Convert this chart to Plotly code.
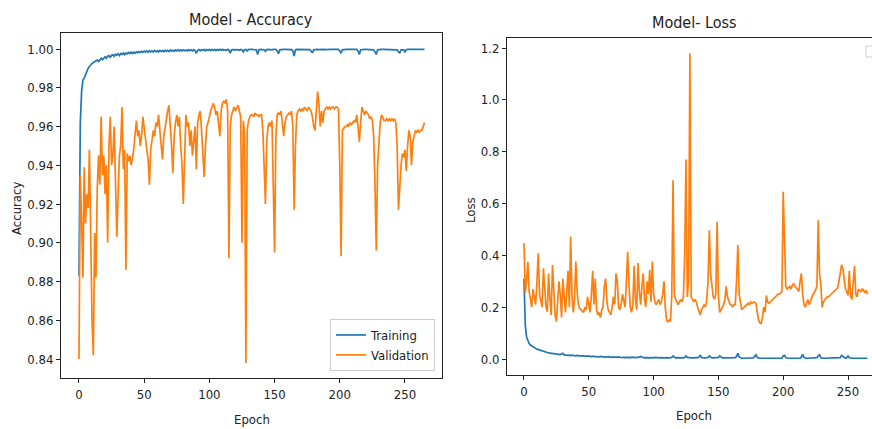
import plotly.graph_objects as go

epochs = list(range(266))

train_acc = [
    0.883, 0.962, 0.978, 0.984, 0.985, 0.987, 0.988, 0.990, 0.991, 0.992,
    0.9925, 0.993, 0.9935, 0.9940, 0.9943, 0.9936, 0.9948, 0.9952, 0.9945, 0.9956,
    0.9960, 0.9952, 0.9963, 0.9966, 0.9955, 0.9968, 0.9970, 0.9962, 0.9973, 0.9968,
    0.9975, 0.9966, 0.9977, 0.9972, 0.9979, 0.9970, 0.9980, 0.9975, 0.9982, 0.9976,
    0.9983, 0.9977, 0.9984, 0.9978, 0.9986, 0.9980, 0.9987, 0.9982, 0.9988, 0.9983,
    0.9989, 0.9984, 0.9990, 0.9983, 0.9991, 0.9985, 0.9990, 0.9984, 0.9992, 0.9986,
    0.9991, 0.9985, 0.9993, 0.9987, 0.9992, 0.9986, 0.9994, 0.9988, 0.9993, 0.9987,
    0.9995, 0.9989, 0.9994, 0.9988, 0.9995, 0.9990, 0.9996, 0.9989, 0.9995, 0.9990,
    0.9996, 0.9991, 0.9995, 0.9990, 0.9997, 0.9991, 0.9996, 0.9990, 0.9997, 0.9992,
    0.9978, 0.9993, 0.9997, 0.9991, 0.9996, 0.9992, 0.9998, 0.9991, 0.9997, 0.9993,
    0.9998, 0.9992, 0.9997, 0.9993, 0.9998, 0.9992, 0.9997, 0.9994, 0.9998, 0.9993,
    0.9998, 0.9994, 0.9997, 0.9993, 0.9998, 0.9994, 0.9978, 0.9995, 0.9998, 0.9994,
    0.9998, 0.9995, 0.9997, 0.9994, 0.9998, 0.9995, 0.9985, 0.9996, 0.9998, 0.9990,
    0.9997, 0.9998, 0.9996, 0.9998, 0.9997, 0.9998, 0.9996, 0.9972, 0.9996, 0.9998,
    0.9997, 0.9998, 0.9996, 0.9988, 0.9997, 0.9998, 0.9997, 0.9998, 0.9996, 0.9998,
    0.9997, 0.9998, 0.9990, 0.9975, 0.9996, 0.9998, 0.9997, 0.9998, 0.9998, 0.9997,
    0.9998, 0.9998, 0.9997, 0.9998, 0.9990, 0.9964, 0.9995, 0.9998, 0.9998, 0.9997,
    0.9998, 0.9998, 0.9998, 0.9997, 0.9998, 0.9998, 0.9998, 0.9997, 0.9990, 0.9980,
    0.9996, 0.9998, 0.9998, 0.9998, 0.9997, 0.9998, 0.9998, 0.9998, 0.9998, 0.9997,
    0.9998, 0.9998, 0.9998, 0.9998, 0.9998, 0.9997, 0.9998, 0.9998, 0.9998, 0.9998,
    0.9990, 0.9978, 0.9996, 0.9998, 0.9998, 0.9998, 0.9998, 0.9998, 0.9997, 0.9998,
    0.9998, 0.9998, 0.9998, 0.9998, 0.9990, 0.9972, 0.9996, 0.9998, 0.9998, 0.9998,
    0.9998, 0.9998, 0.9998, 0.9998, 0.9998, 0.9998, 0.9996, 0.9985, 0.9972, 0.9996,
    0.9998, 0.9998, 0.9998, 0.9998, 0.9998, 0.9998, 0.9998, 0.9998, 0.9998, 0.9998,
    0.9998, 0.9998, 0.9998, 0.9998, 0.9996, 0.9985, 0.9980, 0.9996, 0.9998, 0.9996,
    0.9985, 0.9996, 0.9998, 0.9998, 0.9998, 0.9998, 0.9998, 0.9998, 0.9998, 0.9998,
    0.9998, 0.9998, 0.9998, 0.9998, 0.9998, 0.9998,
]

val_acc = [
    0.840, 0.935, 0.912, 0.882, 0.939, 0.910, 0.925, 0.918, 0.948, 0.905,
    0.860, 0.842, 0.905, 0.882, 0.928, 0.945, 0.930, 0.965, 0.935, 0.945,
    0.925, 0.940, 0.900, 0.950, 0.965, 0.940, 0.945, 0.960, 0.930, 0.903,
    0.925, 0.945, 0.950, 0.970, 0.938, 0.948, 0.886, 0.946, 0.942, 0.945,
    0.940, 0.944, 0.948, 0.956, 0.963, 0.955, 0.958, 0.950, 0.955, 0.965,
    0.958, 0.952, 0.948, 0.943, 0.930, 0.948, 0.952, 0.958, 0.955, 0.962,
    0.960, 0.966, 0.958, 0.952, 0.943, 0.955, 0.960, 0.963, 0.968, 0.971,
    0.962, 0.950, 0.936, 0.955, 0.962, 0.966, 0.960, 0.965, 0.950, 0.940,
    0.920, 0.945, 0.966, 0.960, 0.962, 0.950, 0.958, 0.945, 0.955, 0.960,
    0.938, 0.962, 0.966, 0.968, 0.958, 0.945, 0.934, 0.950, 0.960, 0.962,
    0.966, 0.968, 0.970, 0.972, 0.970, 0.966, 0.968, 0.962, 0.955, 0.968,
    0.972, 0.973, 0.972, 0.974, 0.968, 0.892, 0.960, 0.966, 0.968, 0.970,
    0.968, 0.970, 0.971, 0.968, 0.965, 0.900, 0.963, 0.956, 0.838, 0.958,
    0.963, 0.965, 0.966, 0.966, 0.965, 0.967, 0.966, 0.966, 0.965, 0.966,
    0.966, 0.958, 0.935, 0.920, 0.952, 0.960, 0.962, 0.960, 0.963, 0.930,
    0.895, 0.955, 0.966, 0.967, 0.966, 0.968, 0.962, 0.955, 0.962, 0.965,
    0.966, 0.967, 0.966, 0.968, 0.960, 0.917, 0.950, 0.966, 0.968, 0.969,
    0.968, 0.969, 0.968, 0.970, 0.969, 0.968, 0.970, 0.969, 0.968, 0.965,
    0.960, 0.958, 0.970, 0.978, 0.972, 0.960, 0.968, 0.962, 0.968, 0.969,
    0.970, 0.969, 0.970, 0.969, 0.970, 0.970, 0.969, 0.970, 0.970, 0.969,
    0.940, 0.893, 0.958, 0.959, 0.960, 0.960, 0.961, 0.960, 0.962, 0.961,
    0.962, 0.963, 0.962, 0.966, 0.960, 0.952, 0.962, 0.970, 0.968, 0.966,
    0.968, 0.967, 0.966, 0.964, 0.965, 0.963, 0.955, 0.930, 0.896, 0.940,
    0.955, 0.962, 0.966, 0.964, 0.963, 0.963, 0.964, 0.963, 0.964, 0.963,
    0.964, 0.963, 0.964, 0.962, 0.950, 0.917, 0.930, 0.940, 0.946, 0.944,
    0.948, 0.937, 0.950, 0.958, 0.955, 0.940, 0.952, 0.955, 0.958, 0.957,
    0.958, 0.957, 0.958, 0.958, 0.960, 0.962,
]

train_loss = [
    0.310, 0.130, 0.085, 0.068, 0.060, 0.054, 0.050, 0.047, 0.044, 0.041,
    0.038, 0.036, 0.034, 0.032, 0.030, 0.029, 0.027, 0.026, 0.025, 0.024,
    0.023, 0.022, 0.021, 0.021, 0.020, 0.019, 0.018, 0.018, 0.017, 0.019,
    0.022, 0.016, 0.015, 0.016, 0.014, 0.015, 0.013, 0.015, 0.013, 0.014,
    0.012, 0.014, 0.012, 0.013, 0.011, 0.013, 0.011, 0.012, 0.010, 0.012,
    0.010, 0.011, 0.009, 0.011, 0.009, 0.010, 0.008, 0.010, 0.008, 0.010,
    0.008, 0.009, 0.007, 0.009, 0.007, 0.009, 0.007, 0.008, 0.006, 0.008,
    0.006, 0.008, 0.006, 0.008, 0.006, 0.007, 0.005, 0.007, 0.005, 0.007,
    0.005, 0.007, 0.005, 0.007, 0.005, 0.006, 0.005, 0.006, 0.005, 0.007,
    0.010, 0.006, 0.005, 0.006, 0.004, 0.006, 0.004, 0.006, 0.004, 0.006,
    0.004, 0.006, 0.004, 0.005, 0.004, 0.005, 0.004, 0.005, 0.004, 0.005,
    0.004, 0.005, 0.004, 0.005, 0.006, 0.012, 0.006, 0.004, 0.005, 0.004,
    0.005, 0.004, 0.005, 0.004, 0.006, 0.012, 0.006, 0.004, 0.005, 0.004,
    0.004, 0.004, 0.004, 0.004, 0.005, 0.008, 0.014, 0.006, 0.004, 0.004,
    0.004, 0.004, 0.006, 0.012, 0.006, 0.004, 0.004, 0.004, 0.004, 0.004,
    0.006, 0.012, 0.006, 0.004, 0.004, 0.004, 0.004, 0.004, 0.004, 0.004,
    0.004, 0.004, 0.004, 0.005, 0.010, 0.022, 0.008, 0.004, 0.003, 0.003,
    0.003, 0.003, 0.003, 0.003, 0.003, 0.003, 0.003, 0.004, 0.010, 0.016,
    0.006, 0.003, 0.003, 0.003, 0.003, 0.003, 0.003, 0.003, 0.003, 0.003,
    0.003, 0.003, 0.003, 0.003, 0.003, 0.003, 0.003, 0.003, 0.003, 0.003,
    0.012, 0.014, 0.005, 0.003, 0.003, 0.003, 0.003, 0.003, 0.003, 0.003,
    0.003, 0.003, 0.003, 0.003, 0.008, 0.018, 0.006, 0.003, 0.003, 0.003,
    0.003, 0.003, 0.003, 0.003, 0.003, 0.003, 0.005, 0.012, 0.016, 0.005,
    0.003, 0.003, 0.003, 0.003, 0.003, 0.003, 0.003, 0.003, 0.003, 0.003,
    0.003, 0.003, 0.003, 0.003, 0.005, 0.014, 0.010, 0.004, 0.003, 0.005,
    0.012, 0.005, 0.003, 0.003, 0.003, 0.003, 0.003, 0.003, 0.003, 0.003,
    0.003, 0.003, 0.003, 0.003, 0.003, 0.003,
]

val_loss = [
    0.447, 0.255, 0.300, 0.375, 0.260, 0.230, 0.200, 0.270, 0.240, 0.210,
    0.300, 0.408, 0.250, 0.220, 0.200, 0.350, 0.260, 0.200, 0.182, 0.330,
    0.230, 0.170, 0.363, 0.250, 0.170, 0.144, 0.220, 0.300, 0.250, 0.160,
    0.310, 0.220, 0.180, 0.260, 0.340, 0.200, 0.472, 0.250, 0.180, 0.230,
    0.376, 0.260, 0.210, 0.195, 0.190, 0.185, 0.180, 0.200, 0.190, 0.240,
    0.200, 0.180, 0.250, 0.340, 0.210, 0.310, 0.190, 0.170, 0.180, 0.160,
    0.190, 0.200, 0.280, 0.310, 0.220, 0.190, 0.180, 0.170, 0.200, 0.240,
    0.210, 0.330, 0.300, 0.200, 0.190, 0.210, 0.250, 0.230, 0.200, 0.300,
    0.414, 0.290, 0.200, 0.180, 0.210, 0.360, 0.230, 0.190, 0.370, 0.260,
    0.210, 0.280, 0.330, 0.230, 0.200, 0.300, 0.250, 0.343, 0.220, 0.376,
    0.250, 0.220, 0.210, 0.220, 0.230, 0.210, 0.220, 0.250, 0.300, 0.200,
    0.150, 0.144, 0.150, 0.145, 0.240, 0.690, 0.250, 0.230, 0.220, 0.210,
    0.220, 0.230, 0.220, 0.240, 0.400, 0.770, 0.240, 0.300, 1.180, 0.240,
    0.230, 0.220, 0.230, 0.220, 0.200, 0.180, 0.170, 0.190, 0.200, 0.210,
    0.200, 0.230, 0.300, 0.497, 0.330, 0.280, 0.240, 0.230, 0.250, 0.530,
    0.240, 0.180, 0.190, 0.200, 0.210, 0.230, 0.280, 0.240, 0.220, 0.210,
    0.210, 0.200, 0.210, 0.210, 0.300, 0.440, 0.250, 0.210, 0.190, 0.195,
    0.200, 0.205, 0.210, 0.215, 0.210, 0.220, 0.215, 0.220, 0.220, 0.215,
    0.180, 0.150, 0.140, 0.138, 0.160, 0.200, 0.180, 0.245, 0.220, 0.215,
    0.220, 0.225, 0.230, 0.235, 0.240, 0.245, 0.250, 0.250, 0.255, 0.260,
    0.645, 0.400, 0.280, 0.270, 0.275, 0.280, 0.270, 0.285, 0.290, 0.280,
    0.275, 0.270, 0.260, 0.300, 0.330, 0.250, 0.210, 0.200, 0.220, 0.230,
    0.210, 0.225, 0.240, 0.250, 0.255, 0.265, 0.280, 0.535, 0.330, 0.290,
    0.200, 0.220, 0.230, 0.235, 0.240, 0.240, 0.245, 0.250, 0.255, 0.260,
    0.265, 0.270, 0.275, 0.300, 0.340, 0.363, 0.350, 0.300, 0.270, 0.260,
    0.245, 0.340, 0.240, 0.230, 0.300, 0.360, 0.250, 0.240, 0.270, 0.265,
    0.260, 0.270, 0.265, 0.255, 0.265, 0.250,
]

acc_ticks = [0.84, 0.86, 0.88, 0.90, 0.92, 0.94, 0.96, 0.98, 1.00]
loss_ticks = [0.0, 0.2, 0.4, 0.6, 0.8, 1.0, 1.2]
epoch_ticks = [0, 50, 100, 150, 200, 250]

BLUE = "#1f77b4"
ORANGE = "#ff7f0e"
FONT = "DejaVu Sans Condensed, DejaVu Sans, sans-serif"
W, H = 872, 429

fig = go.Figure()
fig.add_trace(go.Scatter(x=epochs, y=train_acc, mode="lines", name="Training",
                         line=dict(color=BLUE, width=1.7), xaxis="x", yaxis="y"))
fig.add_trace(go.Scatter(x=epochs, y=val_acc, mode="lines", name="Validation",
                         line=dict(color=ORANGE, width=1.7), xaxis="x", yaxis="y"))
fig.add_trace(go.Scatter(x=epochs, y=train_loss, mode="lines", name="Training",
                         line=dict(color=BLUE, width=1.7), xaxis="x2", yaxis="y2",
                         showlegend=False))
fig.add_trace(go.Scatter(x=epochs, y=val_loss, mode="lines", name="Validation",
                         line=dict(color=ORANGE, width=1.7), xaxis="x2", yaxis="y2",
                         showlegend=False))

axis_common = dict(showgrid=False, zeroline=False, showline=True, linecolor="#222",
                   linewidth=1, ticks="outside", ticklen=4, tickcolor="#222",
                   tickfont=dict(family=FONT, size=13, color="#222"), automargin=False)

fig.update_layout(
    width=W, height=H,
    margin=dict(l=0, r=0, t=0, b=0),
    paper_bgcolor="white", plot_bgcolor="white",
    font=dict(family=FONT, size=13, color="#222"),
    xaxis=dict(domain=[61 / W, 442 / W], range=[-13.8, 278.4], tickvals=epoch_ticks,
               mirror=True, anchor="y", **axis_common),
    yaxis=dict(domain=[1 - 378 / H, 1 - 33 / H], range=[0.8302, 1.00826],
               tickvals=acc_ticks, ticktext=[f"{v:.2f}" for v in acc_ticks],
               mirror=True, anchor="x", **axis_common),
    xaxis2=dict(domain=[507 / W, 1.0], range=[-13.1, 268.5], tickvals=epoch_ticks,
                mirror=True, anchor="y2", **axis_common),
    yaxis2=dict(domain=[1 - 375 / H, 1 - 38 / H], range=[-0.0617, 1.2386],
                tickvals=loss_ticks, ticktext=[f"{v:.1f}" for v in loss_ticks],
                mirror=False, anchor="x2", **axis_common),
    showlegend=True,
    legend=dict(x=435 / W, y=1 - 371 / H, xanchor="right", yanchor="bottom",
                bgcolor="rgba(255,255,255,0.85)", bordercolor="#cccccc", borderwidth=1,
                font=dict(family=FONT, size=13, color="#222"),
                tracegroupgap=0, itemwidth=30),
)

annos = [
    dict(text="Model - Accuracy", x=251 / W, y=1 - 20 / H, size=16, angle=0),
    dict(text="Model- Loss", x=694 / W, y=1 - 23 / H, size=16, angle=0),
    dict(text="Epoch", x=252 / W, y=1 - 419 / H, size=13, angle=0),
    dict(text="Epoch", x=694 / W, y=1 - 415 / H, size=13, angle=0),
    dict(text="Accuracy", x=16 / W, y=1 - 209 / H, size=13, angle=-90),
    dict(text="Loss", x=470 / W, y=1 - 210 / H, size=13, angle=-90),
]
for a in annos:
    fig.add_annotation(text=a["text"], x=a["x"], y=a["y"], xref="paper", yref="paper",
                       xanchor="center", yanchor="middle", showarrow=False,
                       textangle=a["angle"],
                       font=dict(family=FONT, size=a["size"], color="#222"))

# fragment of an empty legend frame cut off at the right edge
fig.add_shape(type="rect", xref="paper", yref="paper",
              x0=866 / W, x1=875 / W, y0=1 - 57 / H, y1=1 - 46 / H,
              line=dict(color="#cccccc", width=1), fillcolor="white")

fig.write_html(
    "out.html",
    config={"displayModeBar": False},
    post_script="document.body.style.margin='0';document.body.style.overflow='hidden';",
)
